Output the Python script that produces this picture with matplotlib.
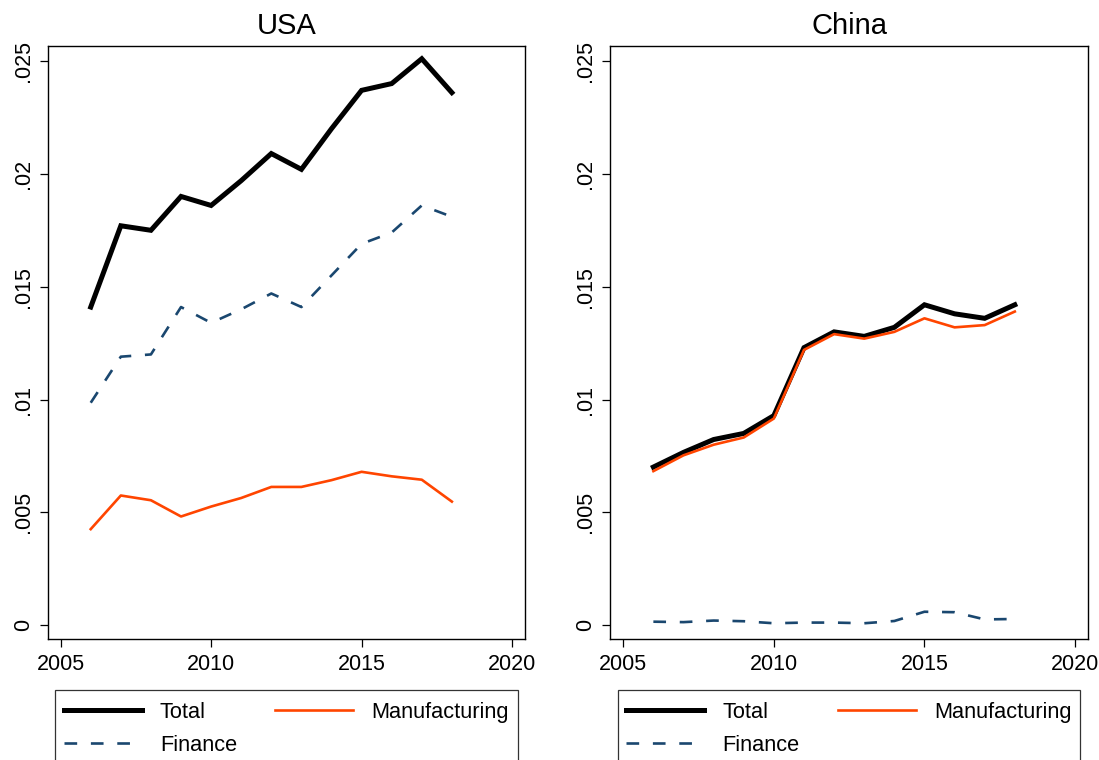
import numpy as np
import matplotlib
matplotlib.use("Agg")
import matplotlib.pyplot as plt
from matplotlib.patches import Rectangle

plt.rcParams['font.family'] = ['Liberation Sans', 'DejaVu Sans']

# datos
years = [2006, 2007, 2008, 2009, 2010, 2011, 2012, 2013, 2014, 2015, 2016, 2017, 2018]

usa_total = [0.0141, 0.0177, 0.0175, 0.0190, 0.0186, 0.0197, 0.0209, 0.0202, 0.0220,
             0.0237, 0.0240, 0.0251, 0.0236]
usa_manuf = [0.00426, 0.00575, 0.00554, 0.00482, 0.00526, 0.00564, 0.00613, 0.00613,
             0.00643, 0.00680, 0.00660, 0.00645, 0.00548]
usa_finance = [0.00986, 0.0119, 0.0120, 0.0141, 0.0134, 0.0140, 0.0147, 0.0141, 0.0155,
               0.0169, 0.0174, 0.0186, 0.0181]

china_total = [0.00701, 0.00766, 0.00823, 0.00850, 0.00929, 0.0123, 0.0130, 0.0128, 0.0132,
               0.0142, 0.0138, 0.0136, 0.0142]
china_manuf = [0.00683, 0.00753, 0.00800, 0.00832, 0.00916, 0.0122, 0.0129, 0.0127, 0.0130,
               0.0136, 0.0132, 0.0133, 0.0139]
china_finance = [0.00016, 0.00014, 0.00021, 0.00018, 0.00009, 0.00012, 0.00012, 0.00009,
                 0.00019, 0.00060, 0.00058, 0.00026, 0.00028]

panels = [("USA", usa_total, usa_manuf, usa_finance),
          ("China", china_total, china_manuf, china_finance)]

y_ticks = [0, 0.005, 0.01, 0.015, 0.02, 0.025]
y_labels = ["0", ".005", ".01", ".015", ".02", ".025"]
x_ticks = [2005, 2010, 2015, 2020]

c_total = "black"
c_manuf = "#FF4500"
c_fin = "#1A476F"

W, H = 1099, 760
fig = plt.figure(figsize=(W / 100, H / 100), dpi=100)

# posiciones en pixeles: (izq, der) de cada panel y de su leyenda
ax_px = [(47.7, 525.3), (610.3, 1088.3)]
leg_px = [(55, 517.7), (617.7, 1080.3)]
top_px, bot_px = 46, 638.7
leg_top = 689.5

for (title, tot, man, fin), (x0, x1), (l0, l1) in zip(panels, ax_px, leg_px):
    ax = fig.add_axes([x0 / W, 1 - bot_px / H, (x1 - x0) / W, (bot_px - top_px) / H])
    ax.plot(years, tot, color=c_total, lw=3.6, label="Total", solid_joinstyle="miter")
    ax.plot(years, man, color=c_manuf, lw=1.9, label="Manufacturing")
    ax.plot(years, fin, color=c_fin, lw=1.9, ls=(0, (4.8, 5.2)), label="Finance")

    ax.set_xlim(2004.57, 2020.44)
    ax.set_ylim(-0.000594, 0.025665)
    ax.set_xticks(x_ticks)
    ax.set_yticks(y_ticks)
    ax.set_yticklabels(y_labels, rotation=90, va="center")
    ax.tick_params(axis="both", direction="out", length=6, width=0.9, labelsize=15.5)
    ax.tick_params(axis="y", pad=4)
    ax.tick_params(axis="x", pad=5)
    for s in ax.spines.values():
        s.set_linewidth(1.0)
    ax.set_title(title, fontsize=21, pad=9)

    handles, labels = ax.get_legend_handles_labels()
    handles = [handles[0], handles[2], handles[1]]
    labels = [labels[0], labels[2], labels[1]]
    fig.legend(handles, labels, loc="upper left",
               bbox_to_anchor=(l0 / W, 1 - (leg_top + 11) / H, (l1 - l0) / W, 0.01),
               mode="expand", ncol=2, borderaxespad=0, fontsize=15.7,
               handlelength=3.57, handletextpad=0.84, labelspacing=0.55,
               frameon=False)
    # caja de la leyenda, se sale por abajo como en el original
    fig.patches.append(Rectangle((l0 / W, -0.05), (l1 - l0) / W, 1 - leg_top / H + 0.05,
                                 transform=fig.transFigure, fill=False,
                                 edgecolor="#333333", linewidth=0.9))

fig.savefig("out.png", dpi=100)
